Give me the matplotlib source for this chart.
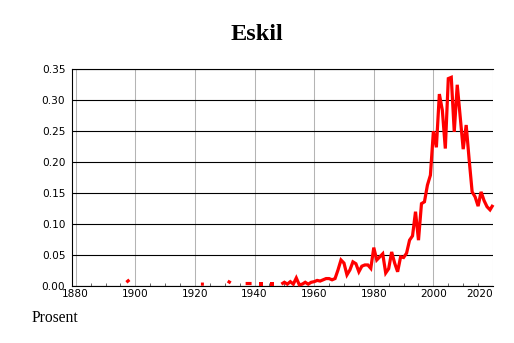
import numpy as np
import matplotlib
matplotlib.use("Agg")
import matplotlib.pyplot as plt
from matplotlib.ticker import MultipleLocator

title = "Eskil"
ylabel_text = "Prosent"

sparse_years = [1897, 1898, 1922, 1923, 1931, 1932, 1937, 1938, 1939, 1942, 1946]
sparse_values = [0.006, 0.010, 0.003, 0.003, 0.008, 0.005, 0.004, 0.004, 0.004, 0.003, 0.003]

main_years = list(range(1949, 2021))
main_values = [
    0.003, 0.006, 0.003, 0.007, 0.003, 0.013, 0.002, 0.003, 0.006, 0.003,   # 1949-1958
    0.006, 0.007, 0.009, 0.008, 0.010, 0.012, 0.012, 0.010, 0.012, 0.026,   # 1959-1968
    0.042, 0.037, 0.018, 0.026, 0.039, 0.036, 0.023, 0.032, 0.034, 0.034,   # 1969-1978
    0.0285, 0.062, 0.042, 0.047, 0.052, 0.021, 0.028, 0.055, 0.037, 0.023,  # 1979-1988
    0.047, 0.046, 0.053, 0.074, 0.081, 0.120, 0.074, 0.133, 0.136, 0.163,   # 1989-1998
    0.179, 0.250, 0.224, 0.310, 0.284, 0.222, 0.335, 0.337, 0.249, 0.325,   # 1999-2008
    0.273, 0.221, 0.260, 0.204, 0.152, 0.144, 0.129, 0.152, 0.138, 0.128,   # 2009-2018
    0.123, 0.131,                                                           # 2019-2020
]

x_ticks = [1880, 1900, 1920, 1940, 1960, 1980, 2000, 2020]
y_ticks = [0.0, 0.05, 0.10, 0.15, 0.20, 0.25, 0.30, 0.35]

# Build full yearly series with gaps
all_years = np.arange(1880, 2021)
series = np.full(all_years.shape, np.nan)
for y, v in zip(sparse_years, sparse_values):
    series[y - 1880] = v
for y, v in zip(main_years, main_values):
    series[y - 1880] = v

fig = plt.figure(figsize=(5.14, 3.43), dpi=100)
ax = fig.add_axes([72.3 / 514, 1 - 286 / 343, (493.3 - 72.3) / 514, (286 - 69.3) / 343])

ax.set_xlim(1878.85, 2020.1)
ax.set_ylim(0, 0.35)

ax.set_xticks(x_ticks)
ax.set_yticks(y_ticks)
ax.set_yticklabels([f"{v:.2f}" for v in y_ticks])
ax.xaxis.set_minor_locator(MultipleLocator(5))

ax.grid(axis="x", which="major", color="#b4b4b4", lw=0.75, zorder=1)
ax.grid(axis="y", which="major", color="black", lw=0.8, zorder=1)

ax.plot(all_years, series, color="#ff0000", lw=2.3, solid_joinstyle="miter",
        solid_capstyle="butt", zorder=3, clip_on=False)

# isolated points (no neighbours) drawn as small marks
prev_nan = np.r_[True, np.isnan(series[:-1])]
next_nan = np.r_[np.isnan(series[1:]), True]
iso = ~np.isnan(series) & prev_nan & next_nan
ax.plot(all_years[iso], series[iso], ls="none", marker="s", ms=2.4,
        mew=0, color="#ff0000", zorder=3)

ax.spines["right"].set_visible(False)
for s in ["left", "bottom", "top"]:
    ax.spines[s].set_color("black")
    ax.spines[s].set_linewidth(0.8)

for lab in ax.get_xticklabels() + ax.get_yticklabels():
    lab.set_fontfamily("DejaVu Sans")
    lab.set_fontsize(7.6)
ax.tick_params(axis="y", which="major", length=0, pad=5, colors="black")
ax.tick_params(axis="x", which="major", length=0, pad=2.5, colors="black")
ax.tick_params(axis="x", which="minor", direction="in", length=2.5, width=0.7,
               color="#666666")

labels = ax.get_xticklabels()
labels[-1].set_horizontalalignment("right")

fig.text(257 / 514, 1 - 34 / 343, title, ha="center", va="center",
         fontfamily="Liberation Serif", fontweight="bold", fontsize=17.5)
fig.text(31.5 / 514, 1 - 318 / 343, ylabel_text, ha="left", va="center",
         fontfamily="Liberation Serif", fontsize=11.2)

fig.savefig("out.png", dpi=100)
